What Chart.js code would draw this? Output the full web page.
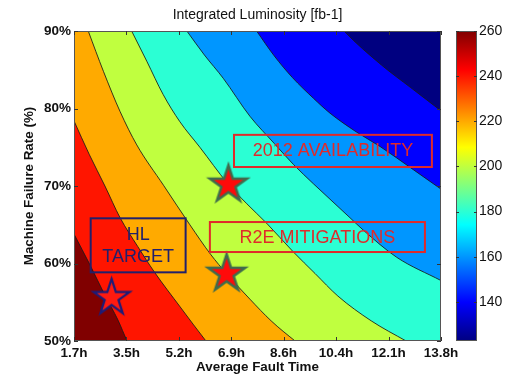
<!DOCTYPE html>
<html><head><meta charset="utf-8">
<script src="https://cdn.jsdelivr.net/npm/chart.js@4/dist/chart.umd.min.js"></script>
<style>html,body{margin:0;padding:0;background:#fff}#wrap{width:510px;height:375px}</style>
</head><body><div id="wrap"><canvas id="c" width="510" height="375"></canvas></div>
<script>
// ---- data ----
const xTickValues = [1.7, 3.43, 5.16, 6.89, 8.61, 10.34, 12.07, 13.8];
const xTickLabels = ['1.7h','3.5h','5.2h','6.9h','8.6h','10.4h','12.1h','13.8h'];
const yTickValues = [50, 60, 70, 80, 90];
const colorbarTicks = [140, 160, 180, 200, 220, 240, 260];
const colorbarRange = [122.7, 260];
const levels = [260, 240, 220, 200, 180, 160, 140];
const bandColors = ['#800000', '#ff1500', '#ffaa00', '#c0ff3f', '#2bffd4', '#0096ff', '#0000ff'];
const lowestBandColor = '#000080';

const contour260 = [[1.7,63.8],[2.23,59.8],[2.72,55.9],[3.15,52.7],[3.45,50.0],[4.5,42],[13.8,0]];
const contour240 = [[1.7,78.4],[2.2,74.1],[2.72,70.0],[3.22,65.9],[3.8,62.2],[4.35,58.9],[5.2,54.4],[6.05,50],[7.5,43],[13.8,20]];
const contour220 = [[1.7,95],[2.17,90],[2.67,84.8],[3.22,79.6],[3.77,75.3],[4.65,70.1],[5.52,65.0],[6.2,61.2],[6.75,58.6],[7.5,55.4],[8.2,52.6],[8.99,50],[10,47],[13.8,37]];
const contour200 = [[1.7,105],[3.6,90],[4.1,86.1],[4.64,81.8],[5.19,78.3],[5.85,75.0],[6.75,70.4],[7.4,67.7],[8.05,65.2],[8.93,61.5],[9.65,58.7],[10.4,55.8],[11.5,52.6],[12.65,50],[13.8,47.5]];
const contour180 = [[1.7,110],[5.42,90],[6.0,86.9],[6.62,83.9],[7.5,79.0],[8.3,75.5],[8.93,72.8],[9.59,70.3],[10.14,68.3],[10.8,65.9],[11.24,64.3],[12.34,60.8],[13.8,57.8]];
const contour160 = [[1.7,123],[7.72,90],[8.3,86.8],[8.9,84.0],[9.6,81.3],[10.14,79.4],[11.0,77.0],[11.79,75.1],[12.89,72.1],[13.8,69.6]];
const contour140 = [[1.7,130],[10.6,90],[11.84,85.6],[12.8,82.7],[13.8,79.7]];
const contours = [contour260, contour240, contour220, contour200, contour180, contour160, contour140];

const availabilityStar = [6.79, 70.3];
const r2eStar = [6.73, 58.8];
const hlStar = [2.94, 55.7];

const annotationTexts = [['2012 AVAILABILITY'], ['R2E MITIGATIONS'], ['HL', 'TARGET']];
const annotationX = [[6.975, 13.5], [6.18, 13.27], [2.25, 5.38]];
const annotationY = [[72.45, 76.6], [61.48, 65.35], [58.86, 65.83]];
const annotationColors = ['#e02a2a', '#e02a2a', '#21206b'];

const jetStops = [[0,'#000080'],[0.125,'#0000ff'],[0.375,'#00ffff'],[0.625,'#ffff00'],[0.875,'#ff0000'],[1,'#800000']];

// ---- helpers ----
const FONT = "'Liberation Sans', Arial, sans-serif";
function starImage(fill, stroke, r, lw) {
  const s = Math.ceil(2 * r + lw + 4);
  const cv = document.createElement('canvas');
  cv.width = s; cv.height = s;
  const g = cv.getContext('2d');
  const cx = s / 2, cy = s / 2 + r * 0.05;
  g.beginPath();
  for (let i = 0; i < 10; i++) {
    const rad = i % 2 ? r * 0.382 : r;
    const a = -Math.PI / 2 + i * Math.PI / 5;
    g.lineTo(cx + rad * Math.cos(a), cy + rad * Math.sin(a));
  }
  g.closePath();
  g.fillStyle = fill; g.fill();
  g.lineWidth = lw; g.strokeStyle = stroke; g.lineJoin = 'miter'; g.stroke();
  return cv;
}

const contourDatasets = contours.map((pts, i) => ({
  label: 'L' + levels[i],
  data: pts.map(p => ({x: p[0], y: p[1]})),
  fill: 'start',
  backgroundColor: bandColors[i],
  borderColor: 'rgba(25,25,25,0.85)',
  borderWidth: 1,
  pointRadius: 0,
  pointHitRadius: 0,
  tension: 0.4,
  cubicInterpolationMode: 'monotone',
  clip: 0
}));

const starDatasets = [
  {pos: availabilityStar, img: starImage('#ff0a0a', '#3f6b4c', 19.5, 2.5)},
  {pos: r2eStar, img: starImage('#ff0a0a', '#3f6b4c', 19.5, 2.5)},
  {pos: hlStar, img: starImage('#ff1a10', '#1c1c78', 19, 2.2)}
].map((s, i) => ({
  label: 'star' + i,
  data: [{x: s.pos[0], y: s.pos[1]}],
  showLine: false,
  fill: false,
  pointStyle: s.img,
  pointRadius: 20,
  pointHoverRadius: 20
}));

const backgroundPlugin = {
  id: 'bg',
  beforeDatasetsDraw(chart) {
    const {ctx, chartArea: a} = chart;
    ctx.save();
    ctx.fillStyle = lowestBandColor;
    ctx.fillRect(a.left, a.top, a.right - a.left, a.bottom - a.top);
    ctx.restore();
  }
};

const annotationPlugin = {
  id: 'notes',
  afterDatasetsDraw(chart) {
    const {ctx} = chart;
    const xs = chart.scales.x, ys = chart.scales.y;
    ctx.save();
    annotationTexts.forEach((lines, i) => {
      const x0 = xs.getPixelForValue(annotationX[i][0]);
      const x1 = xs.getPixelForValue(annotationX[i][1]);
      const y0 = ys.getPixelForValue(annotationY[i][1]);
      const y1 = ys.getPixelForValue(annotationY[i][0]);
      ctx.strokeStyle = annotationColors[i];
      ctx.lineWidth = 2;
      ctx.strokeRect(x0, y0, x1 - x0, y1 - y0);
      ctx.fillStyle = annotationColors[i];
      ctx.font = '18px ' + FONT;
      ctx.textAlign = 'center';
      ctx.textBaseline = 'middle';
      const cx = (x0 + x1) / 2, cy = (y0 + y1) / 2;
      const lh = 21.7;
      lines.forEach((t, k) => {
        ctx.fillText(t, cx, cy + (k - (lines.length - 1) / 2) * lh + 0.5);
      });
    });
    ctx.restore();
  }
};

const framePlugin = {
  id: 'frame',
  afterDraw(chart) {
    const {ctx, chartArea: a} = chart;
    const xs = chart.scales.x, ys = chart.scales.y, cs = chart.scales.c;
    ctx.save();
    // title
    ctx.fillStyle = '#111';
    ctx.font = '14px ' + FONT;
    ctx.textAlign = 'center';
    ctx.textBaseline = 'middle';
    ctx.fillText('Integrated Luminosity [fb-1]', (a.left + a.right) / 2, 15);
    // frame
    ctx.strokeStyle = '#555';
    ctx.lineWidth = 1;
    ctx.strokeRect(a.left + 0.5, a.top + 0.5, a.right - a.left - 1, a.bottom - a.top - 1);
    ctx.strokeStyle = '#333';
    ctx.beginPath();
    xTickValues.forEach(v => {
      const px = Math.round(xs.getPixelForValue(v)) + 0.5;
      ctx.moveTo(px, a.bottom); ctx.lineTo(px, a.bottom - 4);
      ctx.moveTo(px, a.top); ctx.lineTo(px, a.top + 4);
    });
    yTickValues.forEach(v => {
      const py = Math.round(ys.getPixelForValue(v)) + 0.5;
      ctx.moveTo(a.left, py); ctx.lineTo(a.left + 4, py);
      ctx.moveTo(a.right, py); ctx.lineTo(a.right - 4, py);
    });
    ctx.stroke();
    // colorbar
    const x0 = a.right + 15, w = 21;
    const yTop = cs.getPixelForValue(colorbarRange[1]);
    const yBot = cs.getPixelForValue(colorbarRange[0]);
    const grad = ctx.createLinearGradient(0, yBot, 0, yTop);
    jetStops.forEach(([t, c]) => grad.addColorStop(t, c));
    ctx.fillStyle = grad;
    ctx.fillRect(x0, yTop, w, yBot - yTop);
    ctx.strokeStyle = '#555';
    ctx.strokeRect(x0 + 0.5, yTop + 0.5, w - 1, yBot - yTop - 1);
    ctx.strokeStyle = '#333';
    ctx.beginPath();
    colorbarTicks.forEach(v => {
      const py = Math.round(cs.getPixelForValue(v)) + 0.5;
      ctx.moveTo(x0, py); ctx.lineTo(x0 + 3, py);
      ctx.moveTo(x0 + w, py); ctx.lineTo(x0 + w - 3, py);
    });
    ctx.stroke();
    ctx.restore();
  }
};

Chart.defaults.font.family = FONT;
Chart.defaults.color = '#111';

function fixVertical(width) {
  return s => { s.width = width; s.paddingTop = 0; s.paddingBottom = 0; };
}

new Chart(document.getElementById('c'), {
  type: 'line',
  data: {datasets: [...starDatasets, ...contourDatasets]},
  options: {
    responsive: false,
    animation: false,
    events: [],
    layout: {autoPadding: false, padding: {top: 31, left: 0, right: 0, bottom: 0}},
    plugins: {legend: {display: false}, tooltip: {enabled: false}, title: {display: false}},
    scales: {
      x: {
        type: 'linear', min: 1.7, max: 13.8,
        grid: {display: false, drawTicks: false}, border: {display: false},
        afterBuildTicks: s => { s.ticks = xTickValues.map(v => ({value: v})); },
        afterFit: s => { s.height = 34; s.paddingLeft = 0; s.paddingRight = 0; },
        ticks: {
          padding: 4, maxRotation: 0, autoSkip: false,
          font: {size: 13.5, weight: 'bold'}, color: '#111',
          callback: (v, i) => xTickLabels[i]
        },
        title: {display: true, text: 'Average Fault Time', font: {size: 13.4, weight: 'bold'}, color: '#111', padding: {top: 0, bottom: 0}}
      },
      y: {
        type: 'linear', min: 50, max: 90, position: 'left',
        grid: {display: false, drawTicks: false}, border: {display: false},
        afterBuildTicks: s => { s.ticks = yTickValues.map(v => ({value: v})); },
        afterFit: fixVertical(74),
        ticks: {padding: 3, font: {size: 13.5, weight: 'bold'}, color: '#111', callback: v => v + '%'},
        title: {display: true, text: 'Machine Failure Rate (%)', font: {size: 13.4, weight: 'bold'}, color: '#111', padding: {top: 21, bottom: 0}}
      },
      c: {
        type: 'linear', position: 'right', min: colorbarRange[0], max: colorbarRange[1],
        grid: {display: false, drawTicks: false}, border: {display: false},
        afterBuildTicks: s => { s.ticks = colorbarTicks.map(v => ({value: v})); },
        afterFit: fixVertical(69),
        ticks: {padding: 38, font: {size: 14}, color: '#111'}
      }
    }
  },
  plugins: [backgroundPlugin, annotationPlugin, framePlugin]
});
</script>
</body></html>
